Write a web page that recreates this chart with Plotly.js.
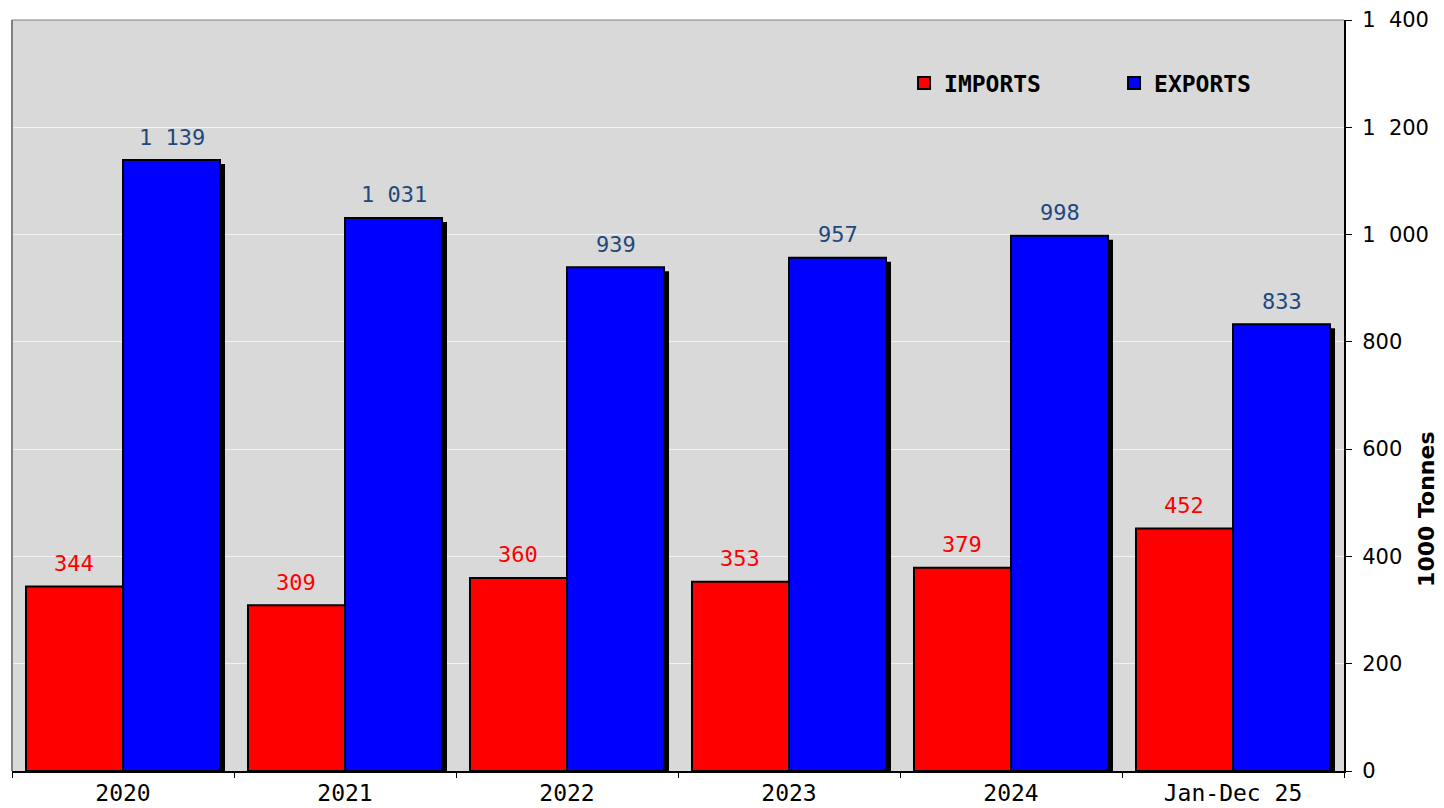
<!DOCTYPE html>
<html>
<head>
<meta charset="utf-8">
<script src="https://cdn.plot.ly/plotly-3.0.1.min.js"></script>
<style>html,body{margin:0;padding:0;background:#fff;}#chart{width:1444px;height:808px;}</style>
</head>
<body>
<div id="chart"></div>
<script>
const categories = ["2020", "2021", "2022", "2023", "2024", "Jan-Dec 25"];
const imports = [344, 309, 360, 353, 379, 452];
const exports = [1139, 1031, 939, 957, 998, 833];
const yTickVals = [0, 200, 400, 600, 800, 1000, 1200, 1400];
const yTickText = ["0", "200", "400", "600", "800", "1\u00a0\u00a0000", "1\u00a0\u00a0200", "1\u00a0\u00a0400"];

function fmt(v) {
  const s = String(v);
  return s.length > 3 ? s.slice(0, s.length - 3) + "\u00a0" + s.slice(s.length - 3) : s;
}

const barW = 0.437;
const shadowDx = 0.0225;
const shadowDy = 7.5;
const idx = categories.map((c, i) => i);

const shadow = {
  type: "bar", x: idx, y: exports.map(v => v - shadowDy),
  width: barW, offset: shadowDx,
  marker: {color: "#000000", line: {width: 0}},
  showlegend: false, hoverinfo: "skip"
};
const tImp = {
  type: "bar", name: "IMPORTS", x: idx, y: imports,
  width: barW, offset: -barW,
  marker: {color: "#ff0000", line: {color: "#000000", width: 2}}
};
const tExp = {
  type: "bar", name: "EXPORTS", x: idx, y: exports,
  width: barW, offset: 0,
  marker: {color: "#0000ff", line: {color: "#000000", width: 2}}
};

const annotations = [];
idx.forEach(i => {
  annotations.push({x: i - barW / 2, y: imports[i], xref: "x", yref: "y", text: fmt(imports[i]),
    showarrow: false, yanchor: "middle", yshift: 23,
    font: {family: "DejaVu Sans Mono", size: 22, color: "#ff0000"}});
  annotations.push({x: i + barW / 2, y: exports[i], xref: "x", yref: "y", text: fmt(exports[i]),
    showarrow: false, yanchor: "middle", yshift: 23,
    font: {family: "DejaVu Sans Mono", size: 22, color: "#1f497d"}});
});
annotations.push({
  xref: "paper", yref: "paper", x: 1.0623, y: 0.349, xanchor: "center", yanchor: "middle",
  text: "1000 Tonnes", textangle: -90, showarrow: false,
  font: {family: "DejaVu Sans", size: 22, color: "#000000", weight: "bold"}
});

const layout = {
  width: 1444, height: 808,
  margin: {l: 12, r: 100, t: 20, b: 37},
  paper_bgcolor: "#ffffff",
  plot_bgcolor: "#d9d9d9",
  barmode: "overlay",
  showlegend: true,
  legend: {
    orientation: "h", x: 0.6697, y: 0.916, xanchor: "left", yanchor: "middle",
    bgcolor: "rgba(0,0,0,0)", entrywidth: 165, entrywidthmode: "pixels",
    font: {family: "DejaVu Sans Mono", size: 23, color: "#000000", weight: "bold"},
    itemwidth: 30
  },
  xaxis: {
    type: "linear", range: [-0.5, 5.5],
    tickvals: idx, ticktext: categories,
    showgrid: false, zeroline: false,
    showline: true, linecolor: "#000000", linewidth: 2,
    ticks: "", tickfont: {family: "DejaVu Sans Mono", size: 23, color: "#000000"},
    mirror: false
  },
  xaxis2: {
    overlaying: "x", type: "linear", range: [-0.5, 5.5],
    tickvals: [-0.5, 0.5, 1.5, 2.5, 3.5, 4.5, 5.5], ticktext: ["", "", "", "", "", "", ""],
    ticks: "outside", ticklen: 6, tickcolor: "#000000", showgrid: false, zeroline: false,
    showline: false, side: "bottom", anchor: "y"
  },
  yaxis: {
    side: "right", range: [0, 1400],
    tickvals: yTickVals, ticktext: yTickText,
    ticks: "outside", ticklen: 6, tickcolor: "#000000",
    ticklabelstandoff: 6,
    showline: true, linecolor: "#000000", linewidth: 2,
    gridcolor: "#f2f2f2", gridwidth: 1, zeroline: false,
    tickfont: {family: "DejaVu Sans", size: 21, color: "#000000"}
  },
  shapes: [
    {type: "line", xref: "paper", yref: "paper", x0: 0, x1: 0, y0: 0, y1: 1, line: {color: "#808080", width: 2}},
    {type: "line", xref: "paper", yref: "paper", x0: 0, x1: 1, y0: 1, y1: 1, line: {color: "#808080", width: 1}}
  ],
  annotations: annotations
};

const dummy = {type: "scatter", x: [0], y: [0], xaxis: "x2", yaxis: "y", mode: "markers",
  marker: {opacity: 0}, showlegend: false, hoverinfo: "skip"};

Plotly.newPlot("chart", [shadow, tImp, tExp, dummy], layout, {displayModeBar: false, staticPlot: true});
</script>
</body>
</html>
